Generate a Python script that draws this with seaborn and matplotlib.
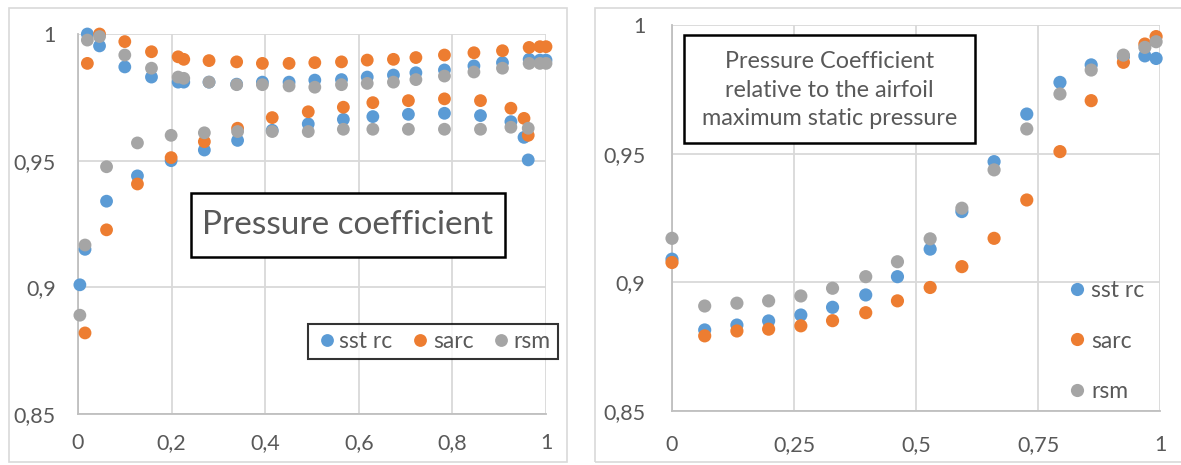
import numpy as np
import pandas as pd
import matplotlib
matplotlib.use("Agg")
import matplotlib.pyplot as plt
from matplotlib.patches import Rectangle
from matplotlib.ticker import FixedLocator, FuncFormatter
import seaborn as sns

# ---------------- data ----------------
SERIES = ["sst rc", "sarc", "rsm"]
COLORS = ["#5B9BD5", "#ED7D31", "#A5A5A5"]

# left panel: upper branch
LEFT_X_UPPER = [0.02, 0.046, 0.10, 0.157, 0.214, 0.226, 0.28, 0.339, 0.394, 0.451, 0.506,
                0.563, 0.618, 0.674, 0.722, 0.783, 0.846, 0.907, 0.964, 0.987, 1.0]
LEFT_SST_UPPER = [1.0, 0.9953, 0.987, 0.983, 0.981, 0.981, 0.981, 0.9802, 0.981, 0.981, 0.9818,
                  0.982, 0.983, 0.9838, 0.9847, 0.9858, 0.9874, 0.9887, 0.990, 0.9897, 0.9897]
LEFT_SARC_UPPER = [0.9884, 1.0, 0.997, 0.993, 0.991, 0.990, 0.9895, 0.989, 0.9884, 0.9884, 0.9887,
                   0.989, 0.9897, 0.990, 0.9907, 0.9917, 0.9926, 0.9934, 0.9947, 0.995, 0.995]
LEFT_RSM_UPPER = [0.9976, 0.999, 0.9917, 0.9865, 0.983, 0.9825, 0.981, 0.980, 0.980, 0.9795, 0.979,
                  0.980, 0.9805, 0.981, 0.982, 0.9834, 0.985, 0.9865, 0.9884, 0.9884, 0.9884]

# left panel: lower branch
LEFT_X_LOWER = [0.004, 0.015, 0.061, 0.127, 0.199, 0.27, 0.341, 0.415, 0.492, 0.567, 0.63,
                0.706, 0.783, 0.86, 0.925, 0.953, 0.962]
LEFT_SST_LOWER = [0.901, 0.915, 0.934, 0.944, 0.950, 0.9542, 0.958, 0.962, 0.9645, 0.9663, 0.9674,
                  0.9683, 0.9687, 0.9678, 0.9654, 0.9592, 0.9503]
LEFT_SARC_LOWER = [np.nan, 0.882, 0.9227, 0.9408, 0.9512, 0.9575, 0.9628, 0.967, 0.9693, 0.9711, 0.9729,
                   0.9737, 0.9744, 0.9737, 0.9707, 0.9667, 0.960]
LEFT_RSM_LOWER = [0.889, 0.9167, 0.9476, 0.957, 0.960, 0.961, 0.9615, 0.9615, 0.9615, 0.9624, 0.9624,
                  0.9624, 0.9624, 0.9624, 0.9632, np.nan, 0.9628]

# right panel
RIGHT_X = [0.0, 0.067, 0.133, 0.198, 0.264, 0.329, 0.397, 0.462, 0.529, 0.594, 0.66,
           0.727, 0.795, 0.859, 0.925, 0.969, 0.992]
RIGHT_SST = [0.909, 0.8815, 0.8834, 0.885, 0.8873, 0.8903, 0.8951, 0.9022, 0.9129, 0.9275, 0.9469,
             0.9654, 0.9777, 0.9845, 0.9877, 0.988, 0.987]
RIGHT_SARC = [0.9077, 0.8792, 0.8811, 0.8818, 0.8831, 0.8851, 0.8882, 0.8928, 0.898, 0.9061, 0.9171,
              0.932, 0.9508, 0.9706, 0.9855, 0.9926, 0.9955]
RIGHT_RSM = [0.9171, 0.8908, 0.8919, 0.8928, 0.8947, 0.8977, 0.9022, 0.908, 0.9169, 0.9288, 0.9437,
             0.9596, 0.9732, 0.9825, 0.9883, 0.9913, 0.9935]

LEFT_XTICKS = [0, 0.2, 0.4, 0.6, 0.8, 1.0]
RIGHT_XTICKS = [0, 0.25, 0.5, 0.75, 1.0]
YTICKS = [0.85, 0.9, 0.95, 1.0]

LEFT_TITLE = "Pressure coefficient"
RIGHT_TITLE = "Pressure Coefficient\nrelative to the airfoil\nmaximum static pressure"

# ---------------- frames ----------------
lp = []
for name, (yu, yl) in zip(SERIES, [(LEFT_SST_UPPER, LEFT_SST_LOWER),
                                   (LEFT_SARC_UPPER, LEFT_SARC_LOWER),
                                   (LEFT_RSM_UPPER, LEFT_RSM_LOWER)]):
    lp.append(pd.DataFrame({"x": LEFT_X_UPPER + LEFT_X_LOWER, "y": list(yu) + list(yl), "series": name}))
left_df = pd.concat(lp, ignore_index=True).dropna()

rp = []
for name, ys in zip(SERIES, [RIGHT_SST, RIGHT_SARC, RIGHT_RSM]):
    rp.append(pd.DataFrame({"x": RIGHT_X, "y": ys, "series": name}))
right_df = pd.concat(rp, ignore_index=True).dropna()

# ---------------- style ----------------
sns.set_theme(style="white")
plt.rcParams["font.family"] = ["Lato", "DejaVu Sans"]
TXT = "#595959"
GRID = "#D9D9D9"

W, H = 1181, 465
fig = plt.figure(figsize=(W / 100, H / 100), dpi=100)
fig.patch.set_facecolor("white")

def fx(px):
    return px / W

def fy(py):
    return 1 - py / H

# chart-area borders
fig.patches.append(Rectangle((fx(9), fy(462)), fx(567) - fx(9), fy(8) - fy(462),
                             transform=fig.transFigure, fill=False, edgecolor=GRID, lw=1.2))
fig.patches.append(Rectangle((fx(595), fy(462)), fx(1200) - fx(595), fy(8) - fy(462),
                             transform=fig.transFigure, fill=False, edgecolor=GRID, lw=1.2))

axL = fig.add_axes([fx(78), fy(414), fx(546) - fx(78), fy(34) - fy(414)])
axR = fig.add_axes([fx(672), fy(411), fx(1160) - fx(672), fy(25) - fy(411)])

def comma(v, pos):
    return ("%g" % v).replace(".", ",")

palette = dict(zip(SERIES, COLORS))

for ax, df, xt, ms, ypad, xpad in [(axL, left_df, LEFT_XTICKS, 85, 16, 14),
                                    (axR, right_df, RIGHT_XTICKS, 90, 19, 17)]:
    sns.scatterplot(data=df, x="x", y="y", hue="series", hue_order=SERIES, palette=palette,
                    s=ms, linewidth=0, ax=ax, clip_on=False, zorder=3, legend=True)
    ax.set_xlim(0, 1)
    ax.set_ylim(0.85, 1.0)
    ax.xaxis.set_major_locator(FixedLocator(xt))
    ax.yaxis.set_major_locator(FixedLocator(YTICKS))
    ax.xaxis.set_major_formatter(FuncFormatter(comma))
    ax.yaxis.set_major_formatter(FuncFormatter(comma))
    ax.grid(True, color=GRID, lw=1.3)
    ax.set_axisbelow(True)
    for side in ["top", "right"]:
        ax.spines[side].set_visible(False)
    for side in ["left", "bottom"]:
        ax.spines[side].set_color("#BFBFBF")
        ax.spines[side].set_linewidth(1.3)
    ax.tick_params(axis="y", length=0, pad=ypad, labelsize=15.5, labelcolor=TXT)
    ax.tick_params(axis="x", length=0, pad=xpad, labelsize=15.5, labelcolor=TXT)
    ax.set_xlabel("")
    ax.set_ylabel("")
    ax.set_facecolor("white")

# left legend (boxed, one row)
handles, labels = axL.get_legend_handles_labels()
axL.get_legend().remove()
legL = fig.legend(handles, labels, loc="center", bbox_to_anchor=(fx(433), fy(341.5)),
                  ncol=3, frameon=True, fancybox=False, fontsize=16.5, labelcolor=TXT,
                  handletextpad=0.05, columnspacing=0.7, handlelength=1.0, borderpad=0.3,
                  markerscale=1.0)
legL.get_frame().set_edgecolor("black")
legL.get_frame().set_linewidth(1.5)

# right legend (no box, one column)
handles, labels = axR.get_legend_handles_labels()
axR.get_legend().remove()
fig.legend(handles, labels, loc="center left", bbox_to_anchor=(fx(1066), fy(341)),
           ncol=1, frameon=False, fontsize=16.5, labelcolor=TXT,
           handletextpad=0.1, handlelength=1.0, labelspacing=1.28, borderpad=0, borderaxespad=0)

# text boxes
fig.patches.append(Rectangle((fx(191), fy(257)), fx(505) - fx(191), fy(193) - fy(257),
                             transform=fig.transFigure, facecolor="white", edgecolor="black",
                             lw=1.8, zorder=5))
fig.text(fx(348), fy(225), LEFT_TITLE, ha="center", va="center", fontsize=24, color=TXT, zorder=6)

fig.patches.append(Rectangle((fx(684), fy(143)), fx(975) - fx(684), fy(35) - fy(143),
                             transform=fig.transFigure, facecolor="white", edgecolor="black",
                             lw=1.8, zorder=5))
fig.text(fx(829.5), fy(90), RIGHT_TITLE, ha="center", va="center", fontsize=16.8, color=TXT,
         linespacing=1.42, zorder=6)

fig.savefig("out.png", dpi=100, facecolor="white")
